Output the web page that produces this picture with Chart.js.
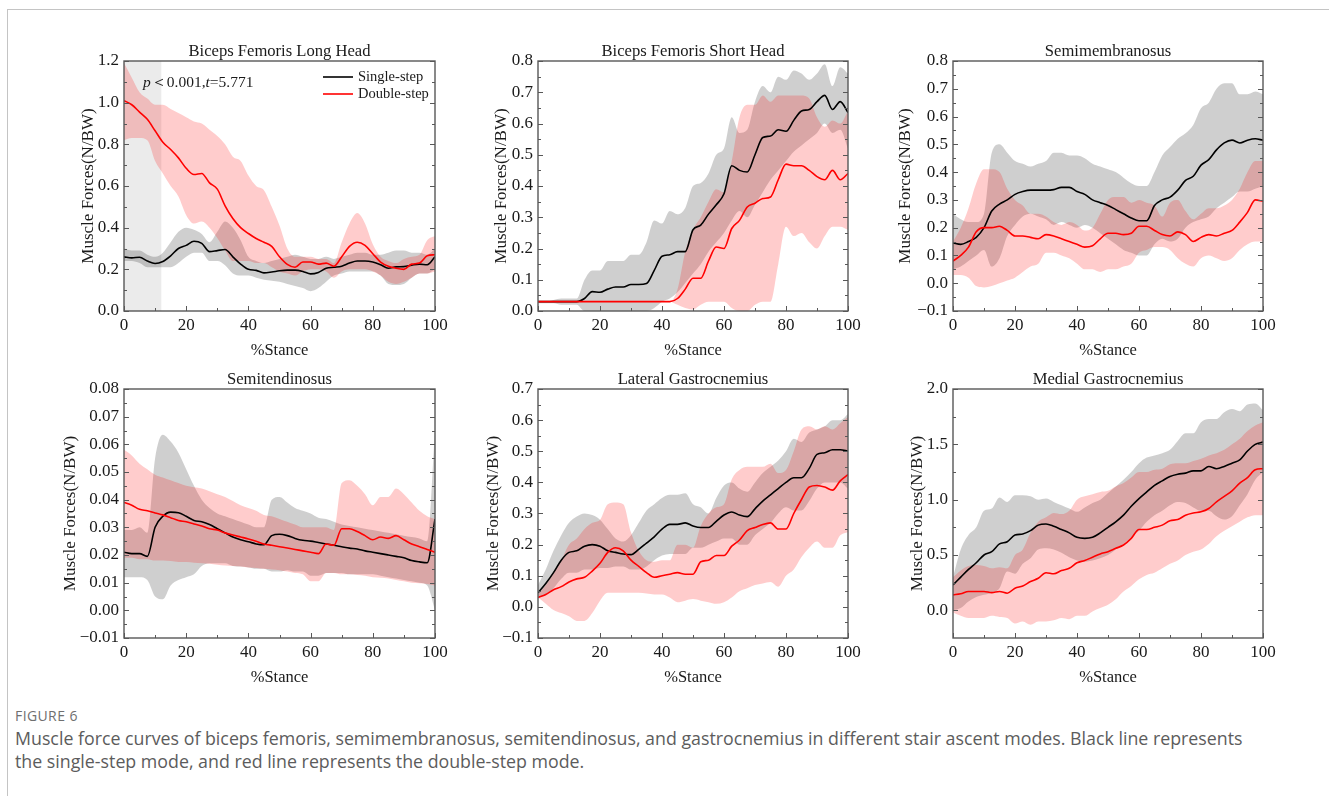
<!DOCTYPE html>
<html>
<head>
<meta charset="utf-8">
<script src="https://cdn.jsdelivr.net/npm/chart.js@4.4.1/dist/chart.umd.min.js"></script>
<style>
  html, body { margin: 0; padding: 0; background: #fff; }
  body { width: 1329px; height: 796px; overflow: hidden; position: relative; font-family: "Open Sans", "Noto Sans", sans-serif; }
  #frameTop { position: absolute; left: 7px; top: 9px; right: 0; height: 0; border-top: 1px solid #c4c4c4; }
  #frameLeft { position: absolute; left: 7px; top: 9px; bottom: 0; width: 0; border-left: 1px solid #c4c4c4; }
  canvas { position: absolute; }
  #figlabel { position: absolute; left: 15px; top: 706px; font-size: 14px; color: #6f6f6f; letter-spacing: 0.4px; }
  #caption { position: absolute; left: 15px; top: 727px; font-size: 17.8px; line-height: 23px; color: #5c5c5c; white-space: nowrap; }
</style>
</head>
<body>
<div id="frameTop"></div>
<div id="frameLeft"></div>
<div id="charts"></div>
<div id="figlabel">FIGURE 6</div>
<div id="caption">Muscle force curves of biceps femoris, semimembranosus, semitendinosus, and gastrocnemius in different stair ascent modes. Black line represents<br>the single-step mode, and red line represents the double-step mode.</div>
<script>
// ---------------- DATA ----------------
const stance = [0,2.5,5,7.5,10,12.5,15,17.5,20,22.5,25,27.5,30,32.5,35,37.5,40,42.5,45,47.5,50,52.5,55,57.5,60,62.5,65,67.5,70,72.5,75,77.5,80,82.5,85,87.5,90,92.5,95,97.5,100];
const legendLabels = ['Single-step', 'Double-step'];
const chartTitles = ['Biceps Femoris Long Head','Biceps Femoris Short Head','Semimembranosus','Semitendinosus','Lateral Gastrocnemius','Medial Gastrocnemius'];
const xTicks = [0,20,40,60,80,100];
const xTickLabels = ['0','20','40','60','80','100'];
const shadeRange = [0, 12];
const statText = [{t:'p', italic:true},{t:'＜0.001,', italic:false},{t:'t', italic:true},{t:'=5.771', italic:false}];

// Biceps Femoris Long Head
const bflS   = [0.26,0.255,0.258,0.24,0.228,0.238,0.265,0.30,0.315,0.335,0.325,0.285,0.29,0.295,0.26,0.225,0.20,0.195,0.183,0.187,0.193,0.196,0.196,0.19,0.178,0.185,0.205,0.21,0.215,0.23,0.24,0.24,0.235,0.222,0.205,0.212,0.213,0.22,0.225,0.222,0.26];
const bflSUp = [0.30,0.29,0.29,0.27,0.26,0.28,0.33,0.38,0.40,0.39,0.37,0.33,0.38,0.43,0.40,0.34,0.26,0.24,0.23,0.24,0.25,0.26,0.27,0.26,0.25,0.25,0.26,0.25,0.26,0.27,0.28,0.28,0.27,0.27,0.28,0.29,0.29,0.28,0.28,0.27,0.30];
const bflSLo = [0.24,0.24,0.23,0.21,0.21,0.21,0.21,0.23,0.26,0.28,0.28,0.24,0.24,0.22,0.18,0.17,0.17,0.16,0.15,0.145,0.14,0.13,0.12,0.11,0.095,0.11,0.14,0.17,0.18,0.19,0.19,0.19,0.19,0.17,0.13,0.125,0.13,0.16,0.18,0.18,0.20];
const bflD   = [1.01,0.99,0.955,0.92,0.865,0.81,0.775,0.735,0.685,0.655,0.66,0.615,0.585,0.505,0.444,0.40,0.372,0.348,0.33,0.31,0.26,0.224,0.21,0.235,0.235,0.225,0.23,0.215,0.26,0.31,0.33,0.315,0.275,0.235,0.215,0.205,0.20,0.225,0.23,0.265,0.27];
const bflDUp = [1.19,1.12,1.05,1.02,0.99,0.99,0.97,0.95,0.93,0.91,0.90,0.87,0.84,0.80,0.74,0.72,0.65,0.60,0.58,0.50,0.41,0.30,0.26,0.26,0.26,0.25,0.25,0.23,0.33,0.42,0.47,0.42,0.32,0.26,0.24,0.23,0.25,0.26,0.27,0.34,0.36];
const bflDLo = [0.82,0.83,0.83,0.82,0.72,0.66,0.60,0.55,0.46,0.42,0.43,0.40,0.35,0.29,0.24,0.24,0.24,0.23,0.23,0.21,0.19,0.18,0.17,0.19,0.20,0.20,0.19,0.16,0.19,0.20,0.20,0.20,0.19,0.17,0.14,0.13,0.14,0.16,0.18,0.18,0.19];
const bflYTicks = [0,0.2,0.4,0.6,0.8,1.0,1.2];
const bflYLabels = ['0.0','0.2','0.4','0.6','0.8','1.0','1.2'];

// Biceps Femoris Short Head
const bfsS   = [0.03,0.03,0.03,0.03,0.03,0.03,0.04,0.062,0.06,0.07,0.077,0.077,0.085,0.085,0.088,0.13,0.175,0.18,0.19,0.19,0.26,0.275,0.31,0.34,0.375,0.465,0.45,0.445,0.50,0.555,0.56,0.58,0.575,0.61,0.64,0.645,0.67,0.69,0.645,0.67,0.635];
const bfsSUp = [0.03,0.03,0.035,0.04,0.04,0.04,0.10,0.13,0.13,0.16,0.16,0.16,0.18,0.18,0.22,0.29,0.28,0.32,0.31,0.33,0.40,0.41,0.44,0.50,0.52,0.62,0.57,0.58,0.67,0.72,0.70,0.75,0.74,0.77,0.76,0.74,0.76,0.79,0.72,0.78,0.76];
const bfsSLo = [0.025,0.025,0.025,0.02,0.02,0.02,0.0,0.0,0.0,0.0,0.0,0.0,0.0,0.0,0.0,0.01,0.03,0.04,0.06,0.09,0.12,0.15,0.19,0.22,0.25,0.29,0.32,0.30,0.34,0.38,0.42,0.45,0.48,0.51,0.53,0.55,0.57,0.60,0.57,0.58,0.52];
const bfsD   = [0.03,0.03,0.03,0.03,0.03,0.03,0.03,0.03,0.03,0.03,0.03,0.03,0.03,0.03,0.03,0.03,0.03,0.03,0.04,0.07,0.105,0.105,0.16,0.205,0.20,0.264,0.29,0.333,0.345,0.36,0.365,0.42,0.47,0.465,0.465,0.45,0.43,0.42,0.45,0.42,0.44];
const bfsDUp = [0.03,0.03,0.03,0.03,0.03,0.03,0.03,0.03,0.03,0.03,0.03,0.03,0.03,0.03,0.03,0.03,0.03,0.03,0.07,0.19,0.26,0.30,0.35,0.39,0.38,0.48,0.62,0.66,0.66,0.69,0.67,0.69,0.69,0.69,0.69,0.68,0.62,0.59,0.61,0.60,0.64];
const bfsDLo = [0.03,0.03,0.03,0.03,0.03,0.03,0.03,0.03,0.03,0.03,0.03,0.03,0.03,0.03,0.03,0.03,0.03,0.03,0.02,0.01,0.005,0.02,0.03,0.03,0.03,0.01,0.0,0.0,0.02,0.03,0.03,0.15,0.27,0.24,0.25,0.22,0.20,0.24,0.27,0.27,0.26];
const bfsYTicks = [0,0.1,0.2,0.3,0.4,0.5,0.6,0.7,0.8];
const bfsYLabels = ['0.0','0.1','0.2','0.3','0.4','0.5','0.6','0.7','0.8'];

// Semimembranosus
const smS   = [0.145,0.14,0.15,0.165,0.20,0.26,0.285,0.30,0.32,0.33,0.335,0.335,0.335,0.337,0.345,0.345,0.33,0.32,0.30,0.29,0.28,0.265,0.25,0.235,0.225,0.225,0.28,0.30,0.31,0.335,0.37,0.385,0.425,0.445,0.48,0.505,0.515,0.505,0.515,0.52,0.515];
const smSUp = [0.25,0.23,0.22,0.22,0.25,0.47,0.50,0.47,0.44,0.43,0.42,0.43,0.44,0.47,0.47,0.46,0.46,0.45,0.43,0.42,0.41,0.40,0.38,0.36,0.35,0.35,0.40,0.46,0.49,0.52,0.54,0.57,0.63,0.65,0.70,0.72,0.72,0.68,0.68,0.69,0.68];
const smSLo = [0.05,0.06,0.08,0.10,0.12,0.06,0.09,0.17,0.21,0.24,0.25,0.24,0.23,0.21,0.22,0.21,0.20,0.21,0.20,0.18,0.16,0.14,0.12,0.11,0.10,0.10,0.14,0.16,0.15,0.16,0.20,0.22,0.23,0.24,0.27,0.29,0.31,0.33,0.33,0.34,0.35];
const smD   = [0.08,0.10,0.13,0.185,0.20,0.20,0.205,0.19,0.17,0.17,0.165,0.16,0.175,0.17,0.16,0.15,0.14,0.13,0.135,0.16,0.18,0.18,0.175,0.18,0.205,0.205,0.19,0.175,0.17,0.185,0.175,0.15,0.165,0.175,0.17,0.18,0.19,0.22,0.255,0.30,0.295];
const smDUp = [0.15,0.20,0.27,0.36,0.41,0.41,0.40,0.34,0.30,0.28,0.25,0.25,0.24,0.22,0.21,0.22,0.21,0.19,0.20,0.25,0.30,0.31,0.31,0.29,0.30,0.29,0.28,0.24,0.29,0.30,0.26,0.23,0.25,0.27,0.27,0.28,0.30,0.34,0.40,0.44,0.44];
const smDLo = [0.03,0.03,0.02,-0.01,-0.015,-0.01,0.0,0.01,0.02,0.04,0.06,0.07,0.11,0.11,0.10,0.09,0.07,0.05,0.05,0.04,0.05,0.05,0.06,0.07,0.11,0.12,0.13,0.13,0.12,0.09,0.07,0.06,0.09,0.10,0.09,0.08,0.09,0.12,0.14,0.15,0.15];
const smYTicks = [-0.1,0,0.1,0.2,0.3,0.4,0.5,0.6,0.7,0.8];
const smYLabels = ['\u22120.1','0.0','0.1','0.2','0.3','0.4','0.5','0.6','0.7','0.8'];

// Semitendinosus
const stS   = [0.021,0.0205,0.0205,0.0195,0.030,0.034,0.0355,0.0353,0.034,0.0325,0.032,0.031,0.0295,0.028,0.0265,0.0255,0.0248,0.024,0.0237,0.027,0.0275,0.027,0.026,0.0253,0.025,0.0245,0.024,0.0235,0.023,0.0225,0.0222,0.0215,0.021,0.0205,0.020,0.0195,0.019,0.018,0.0175,0.0172,0.033];
const stSUp = [0.029,0.029,0.030,0.028,0.055,0.0635,0.061,0.057,0.051,0.045,0.040,0.037,0.035,0.034,0.033,0.032,0.031,0.030,0.030,0.040,0.041,0.039,0.037,0.036,0.035,0.0335,0.033,0.032,0.031,0.0305,0.030,0.0295,0.029,0.0285,0.028,0.0275,0.027,0.0265,0.026,0.025,0.065];
const stSLo = [0.012,0.012,0.012,0.011,0.005,0.004,0.009,0.011,0.012,0.013,0.016,0.017,0.017,0.017,0.016,0.0158,0.0155,0.015,0.015,0.014,0.014,0.0145,0.014,0.014,0.0125,0.0125,0.0135,0.0135,0.0135,0.013,0.013,0.013,0.013,0.0125,0.012,0.0115,0.011,0.0105,0.010,0.009,0.0];
const stD   = [0.039,0.038,0.0365,0.036,0.0352,0.0345,0.0335,0.0325,0.032,0.0312,0.0305,0.0295,0.029,0.028,0.0272,0.0265,0.0258,0.025,0.024,0.0235,0.023,0.0225,0.022,0.0215,0.021,0.0205,0.024,0.0235,0.0295,0.0295,0.0285,0.027,0.0255,0.0265,0.026,0.027,0.0255,0.024,0.023,0.022,0.021];
const stDUp = [0.058,0.056,0.053,0.051,0.049,0.048,0.047,0.046,0.045,0.0445,0.044,0.043,0.042,0.041,0.0395,0.038,0.037,0.036,0.0345,0.034,0.033,0.032,0.031,0.030,0.030,0.030,0.030,0.029,0.046,0.047,0.045,0.042,0.038,0.041,0.041,0.044,0.042,0.039,0.036,0.034,0.033];
const stDLo = [0.019,0.019,0.0185,0.0185,0.018,0.018,0.0178,0.0175,0.0175,0.0172,0.017,0.0168,0.0165,0.0162,0.016,0.0158,0.0155,0.0153,0.015,0.0148,0.0145,0.014,0.0135,0.013,0.0105,0.0105,0.0135,0.0135,0.013,0.013,0.0128,0.0125,0.012,0.0118,0.0115,0.011,0.0105,0.010,0.0098,0.0095,0.009];
const stYTicks = [-0.01,0,0.01,0.02,0.03,0.04,0.05,0.06,0.07,0.08];
const stYLabels = ['\u22120.01','0.00','0.01','0.02','0.03','0.04','0.05','0.06','0.07','0.08'];

// Lateral Gastrocnemius
const lgS   = [0.045,0.075,0.11,0.15,0.175,0.18,0.195,0.20,0.195,0.18,0.175,0.17,0.168,0.185,0.205,0.225,0.25,0.265,0.265,0.27,0.26,0.255,0.255,0.275,0.295,0.305,0.295,0.29,0.315,0.34,0.36,0.38,0.40,0.415,0.415,0.445,0.49,0.495,0.505,0.505,0.50];
const lgSUp = [0.07,0.12,0.18,0.23,0.27,0.29,0.30,0.295,0.28,0.25,0.22,0.21,0.23,0.27,0.31,0.33,0.35,0.36,0.36,0.365,0.33,0.32,0.30,0.35,0.39,0.40,0.38,0.37,0.40,0.43,0.45,0.47,0.50,0.54,0.53,0.56,0.57,0.58,0.60,0.60,0.62];
const lgSLo = [0.03,0.04,0.06,0.09,0.11,0.11,0.12,0.12,0.125,0.125,0.13,0.13,0.12,0.12,0.13,0.15,0.165,0.17,0.17,0.17,0.19,0.19,0.20,0.21,0.22,0.22,0.20,0.20,0.23,0.25,0.27,0.30,0.32,0.31,0.31,0.34,0.38,0.40,0.40,0.40,0.38];
const lgD   = [0.03,0.04,0.055,0.065,0.08,0.09,0.095,0.115,0.14,0.175,0.19,0.18,0.15,0.13,0.11,0.095,0.10,0.105,0.11,0.105,0.105,0.145,0.15,0.165,0.165,0.195,0.215,0.245,0.255,0.265,0.27,0.25,0.25,0.30,0.345,0.385,0.39,0.385,0.375,0.405,0.425];
const lgDUp = [0.04,0.07,0.11,0.15,0.20,0.22,0.25,0.27,0.28,0.33,0.335,0.33,0.24,0.18,0.15,0.145,0.15,0.15,0.20,0.20,0.19,0.26,0.30,0.32,0.33,0.41,0.44,0.45,0.45,0.45,0.46,0.43,0.44,0.50,0.57,0.58,0.57,0.58,0.57,0.59,0.61];
const lgDLo = [0.03,0.01,-0.01,-0.02,-0.03,-0.045,-0.045,-0.02,0.02,0.045,0.045,0.045,0.045,0.045,0.043,0.04,0.04,0.03,0.015,0.02,0.025,0.02,0.015,0.01,0.015,0.03,0.05,0.06,0.07,0.075,0.08,0.065,0.10,0.12,0.16,0.19,0.21,0.19,0.19,0.23,0.24];
const lgYTicks = [-0.1,0,0.1,0.2,0.3,0.4,0.5,0.6,0.7];
const lgYLabels = ['\u22120.1','0.0','0.1','0.2','0.3','0.4','0.5','0.6','0.7'];

// Medial Gastrocnemius
const mgS   = [0.23,0.30,0.37,0.43,0.50,0.53,0.60,0.62,0.68,0.69,0.72,0.77,0.78,0.76,0.73,0.70,0.66,0.65,0.66,0.70,0.75,0.80,0.86,0.94,1.01,1.07,1.13,1.17,1.21,1.23,1.24,1.26,1.26,1.30,1.28,1.30,1.33,1.36,1.44,1.50,1.52];
const mgSUp = [0.30,0.55,0.68,0.75,0.90,0.92,1.02,0.98,1.04,1.04,1.03,1.00,1.01,0.98,0.95,0.92,0.89,0.93,0.97,1.00,1.06,1.12,1.18,1.25,1.33,1.38,1.40,1.42,1.45,1.53,1.60,1.60,1.70,1.73,1.73,1.79,1.82,1.80,1.86,1.87,1.81];
const mgSLo = [0.0,0.02,0.08,0.12,0.14,0.16,0.20,0.35,0.33,0.42,0.47,0.55,0.56,0.55,0.52,0.48,0.45,0.44,0.45,0.47,0.50,0.55,0.60,0.66,0.72,0.80,0.86,0.90,0.95,0.98,0.97,0.93,0.90,0.90,0.85,0.82,0.85,0.95,1.05,1.18,1.25];
const mgD   = [0.14,0.15,0.17,0.17,0.17,0.16,0.17,0.155,0.20,0.22,0.26,0.29,0.34,0.33,0.36,0.38,0.43,0.45,0.48,0.51,0.53,0.56,0.59,0.65,0.73,0.73,0.75,0.77,0.81,0.82,0.86,0.88,0.89,0.92,0.98,1.03,1.08,1.15,1.20,1.27,1.28];
const mgDUp = [0.30,0.36,0.40,0.41,0.40,0.38,0.39,0.38,0.50,0.55,0.70,0.80,0.84,0.88,0.87,0.90,1.00,1.03,1.05,1.07,1.08,1.12,1.15,1.20,1.25,1.25,1.27,1.28,1.32,1.33,1.33,1.35,1.37,1.40,1.42,1.45,1.50,1.55,1.62,1.67,1.70];
const mgDLo = [-0.02,-0.05,-0.07,-0.07,-0.07,-0.05,-0.06,-0.07,-0.12,-0.10,-0.13,-0.10,-0.10,-0.09,-0.07,-0.08,-0.05,-0.05,-0.01,0.02,0.05,0.10,0.17,0.22,0.28,0.32,0.34,0.38,0.42,0.45,0.50,0.53,0.55,0.60,0.67,0.72,0.76,0.80,0.84,0.86,0.86];
const mgYTicks = [0,0.5,1.0,1.5,2.0];
const mgYLabels = ['0.0','0.5','1.0','1.5','2.0'];

// ---------------- STYLE / LAYOUT ----------------
const SERIF = '"Liberation Serif", "Times New Roman", "DejaVu Serif", serif';
const AXIS_COLOR = '#585858';
const TEXT_COLOR = '#1a1a1a';
const BLACK = '#000000';
const RED = '#ff0000';
const GREY_BAND = 'rgba(0,0,0,0.19)';
const PINK_BAND = 'rgba(255,0,0,0.2)';

const panels = [
  { title: chartTitles[0], L:124, T:61,  R:435,  B:311, W:46, yMin:0,     yMax:1.2,  yTicks:bflYTicks, yLabels:bflYLabels, s:[bflS,bflSUp,bflSLo], d:[bflD,bflDUp,bflDLo], extras:true },
  { title: chartTitles[1], L:538, T:61,  R:848,  B:311, W:47, yMin:0,     yMax:0.8,  yTicks:bfsYTicks, yLabels:bfsYLabels, s:[bfsS,bfsSUp,bfsSLo], d:[bfsD,bfsDUp,bfsDLo] },
  { title: chartTitles[2], L:953, T:61,  R:1263, B:311, W:58, yMin:-0.1,  yMax:0.8,  yTicks:smYTicks,  yLabels:smYLabels,  s:[smS,smSUp,smSLo],   d:[smD,smDUp,smDLo] },
  { title: chartTitles[3], L:124, T:389, R:435,  B:638, W:64, yMin:-0.01, yMax:0.08, yTicks:stYTicks,  yLabels:stYLabels,  s:[stS,stSUp,stSLo],   d:[stD,stDUp,stDLo] },
  { title: chartTitles[4], L:538, T:389, R:848,  B:638, W:55, yMin:-0.1,  yMax:0.7,  yTicks:lgYTicks,  yLabels:lgYLabels,  s:[lgS,lgSUp,lgSLo],   d:[lgD,lgDUp,lgDLo] },
  { title: chartTitles[5], L:953, T:389, R:1263, B:638, W:46, yMin:-0.25, yMax:2.0,  yTicks:mgYTicks,  yLabels:mgYLabels,  s:[mgS,mgSUp,mgSLo],   d:[mgD,mgDUp,mgDLo] }
];

const PAD_TOP = 30, PAD_RIGHT = 25, X_AXIS_H = 50;

function pts(ys) { return stance.map((x, i) => ({ x: x, y: ys[i] })); }

function midpoints(arr) {
  const out = [];
  for (let i = 0; i < arr.length - 1; i++) out.push((arr[i] + arr[i + 1]) / 2);
  return out;
}

const frameTicksPlugin = {
  id: 'frameTicks',
  afterDraw(chart, args, opts) {
    const { ctx, chartArea: a, scales } = chart;
    const xs = scales.x, ys = scales.y;
    ctx.save();
    ctx.strokeStyle = AXIS_COLOR;
    ctx.lineWidth = 1;
    const majorLen = 5, minorLen = 3;
    const yMaj = opts.yTicks, yMin = midpoints(opts.yTicks);
    ctx.beginPath();
    yMaj.forEach(v => {
      const p = Math.round(ys.getPixelForValue(v)) + 0.5;
      ctx.moveTo(a.left, p); ctx.lineTo(a.left + majorLen, p);
      ctx.moveTo(a.right, p); ctx.lineTo(a.right - majorLen, p);
    });
    yMin.forEach(v => {
      const p = Math.round(ys.getPixelForValue(v)) + 0.5;
      ctx.moveTo(a.left, p); ctx.lineTo(a.left + minorLen, p);
      ctx.moveTo(a.right, p); ctx.lineTo(a.right - minorLen, p);
    });
    xTicks.forEach(v => {
      const p = Math.round(xs.getPixelForValue(v)) + 0.5;
      ctx.moveTo(p, a.bottom); ctx.lineTo(p, a.bottom - majorLen);
    });
    midpoints(xTicks).forEach(v => {
      const p = Math.round(xs.getPixelForValue(v)) + 0.5;
      ctx.moveTo(p, a.bottom); ctx.lineTo(p, a.bottom - minorLen);
    });
    ctx.stroke();
    ctx.lineWidth = 1.4;
    ctx.strokeRect(a.left, a.top, a.right - a.left, a.bottom - a.top);
    ctx.fillStyle = TEXT_COLOR;
    ctx.font = '16.6px ' + SERIF;
    ctx.textAlign = 'center';
    ctx.textBaseline = 'middle';
    ctx.fillText(opts.title, (a.left + a.right) / 2, a.top - 9);
    ctx.restore();
  }
};

const bflExtrasPlugin = {
  id: 'bflExtras',
  beforeDatasetsDraw(chart) {
    const { ctx, chartArea: a, scales } = chart;
    const x0 = scales.x.getPixelForValue(shadeRange[0]);
    const x1 = scales.x.getPixelForValue(shadeRange[1]);
    ctx.save();
    ctx.fillStyle = '#ebebeb';
    ctx.fillRect(x0, a.top, x1 - x0, a.bottom - a.top);
    ctx.restore();
  },
  afterDatasetsDraw(chart) {
    const { ctx, chartArea: a } = chart;
    ctx.save();
    let x = a.left + 19;
    const y = a.top + 22;
    ctx.fillStyle = TEXT_COLOR;
    ctx.textBaseline = 'middle';
    ctx.textAlign = 'left';
    statText.forEach(part => {
      ctx.font = (part.italic ? 'italic ' : '') + '15.5px ' + SERIF;
      ctx.fillText(part.t, x, y);
      x += ctx.measureText(part.t).width;
    });
    const colors = [BLACK, RED];
    ctx.font = '14.5px ' + SERIF;
    legendLabels.forEach((lab, i) => {
      const ly = a.top + 16 + i * 17;
      ctx.strokeStyle = colors[i];
      ctx.lineWidth = 1.6;
      ctx.beginPath();
      ctx.moveTo(a.left + 199, ly); ctx.lineTo(a.left + 229, ly);
      ctx.stroke();
      ctx.fillStyle = TEXT_COLOR;
      ctx.fillText(lab, a.left + 234, ly + 0.5);
    });
    ctx.restore();
  }
};

const tickFont = { family: SERIF, size: 17 };
const yTitleFont = { family: SERIF, size: 17 };
const xTitleFont = { family: SERIF, size: 16.5 };
const holder = document.getElementById('charts');

panels.forEach((p) => {
  const cv = document.createElement('canvas');
  const w = (p.R - p.L) + p.W + PAD_RIGHT;
  const h = (p.B - p.T) + PAD_TOP + X_AXIS_H;
  cv.width = w; cv.height = h;
  cv.style.left = (p.L - p.W) + 'px';
  cv.style.top = (p.T - PAD_TOP) + 'px';
  cv.style.width = w + 'px'; cv.style.height = h + 'px';
  holder.appendChild(cv);

  const lineBase = { pointRadius: 0, pointHoverRadius: 0, cubicInterpolationMode: 'monotone', fill: false };
  const datasets = [
    Object.assign({}, lineBase, { label: legendLabels[1], data: pts(p.d[0]), borderColor: RED, borderWidth: 1.6, order: 0 }),
    Object.assign({}, lineBase, { label: legendLabels[0], data: pts(p.s[0]), borderColor: BLACK, borderWidth: 1.6, order: 1 }),
    Object.assign({}, lineBase, { label: 'dUp', data: pts(p.d[1]), borderWidth: 0, borderColor: 'rgba(0,0,0,0)', backgroundColor: PINK_BAND, fill: '+1', order: 2 }),
    Object.assign({}, lineBase, { label: 'dLo', data: pts(p.d[2]), borderWidth: 0, borderColor: 'rgba(0,0,0,0)', order: 2 }),
    Object.assign({}, lineBase, { label: 'sUp', data: pts(p.s[1]), borderWidth: 0, borderColor: 'rgba(0,0,0,0)', backgroundColor: GREY_BAND, fill: '+1', order: 3 }),
    Object.assign({}, lineBase, { label: 'sLo', data: pts(p.s[2]), borderWidth: 0, borderColor: 'rgba(0,0,0,0)', order: 3 })
  ];

  const plugins = [frameTicksPlugin];
  if (p.extras) plugins.push(bflExtrasPlugin);

  new Chart(cv, {
    type: 'line',
    data: { datasets: datasets },
    plugins: plugins,
    options: {
      responsive: false,
      animation: false,
      devicePixelRatio: 1,
      events: [],
      layout: { padding: { top: PAD_TOP, right: PAD_RIGHT, left: 0, bottom: 0 } },
      plugins: {
        legend: { display: false },
        tooltip: { enabled: false },
        frameTicks: { title: p.title, yTicks: p.yTicks }
      },
      scales: {
        x: {
          type: 'linear', min: 0, max: 100,
          afterBuildTicks: s => { s.ticks = xTicks.map(v => ({ value: v })); },
          afterFit: s => { s.height = X_AXIS_H; },
          grid: { display: false, drawTicks: false },
          border: { display: false },
          ticks: { font: tickFont, color: TEXT_COLOR, padding: 4, autoSkip: false, maxRotation: 0,
                   callback: (v, i) => xTickLabels[i] },
          title: { display: true, text: '%Stance', font: xTitleFont, color: TEXT_COLOR, padding: 0 }
        },
        y: {
          type: 'linear', min: p.yMin, max: p.yMax,
          afterBuildTicks: s => { s.ticks = p.yTicks.map(v => ({ value: v })); },
          afterFit: s => { s.width = p.W; },
          grid: { display: false, drawTicks: false },
          border: { display: false },
          ticks: { font: tickFont, color: TEXT_COLOR, padding: 5, autoSkip: false,
                   callback: (v, i) => p.yLabels[i] },
          title: { display: true, text: 'Muscle Forces(N/BW)', font: yTitleFont, color: TEXT_COLOR, padding: 0 }
        }
      }
    }
  });
});
</script>
</body>
</html>
